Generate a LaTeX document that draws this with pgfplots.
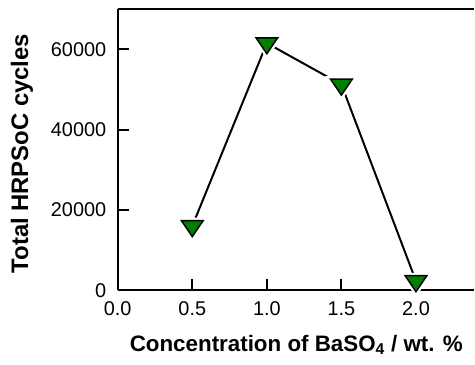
\documentclass[border=0pt]{standalone}
\usepackage{fontspec}
\setmainfont{Liberation Sans}
\usepackage{pgfplots}
\pgfplotsset{compat=1.18}
\definecolor{mgreen}{RGB}{0,128,0}
\pgfplotstableread{
x y
0.5 16000
1.0 61500
1.5 51200
2.0 2300
}\datatable
\begin{document}
\begin{tikzpicture}
\begin{axis}[
  name=ax,
  scale only axis,
  width=357bp, height=282bp,
  xmin=0, xmax=2.388, ymin=0, ymax=70000,
  axis x line*=box, axis y line*=left,
  xtick={0,0.5,1.0,1.5,2.0},
  ytick={0,20000,40000,60000},
  xtick pos=left, ytick pos=left,
  tick align=inside,
  major tick length=11bp,
  minor tick num=0,
  axis line style={line width=2.3bp},
  every tick/.style={line width=2bp, black},
  scaled y ticks=false,
  /pgf/number format/assume math mode=true,
  xticklabel style={/pgf/number format/fixed, /pgf/number format/fixed zerofill, /pgf/number format/precision=1, yshift=-8bp},
  yticklabel style={/pgf/number format/1000 sep={}, xshift=-8bp},
  ticklabel style={font=\fontsize{20}{24}\selectfont},
  xlabel={Concentration of BaSO\textsubscript{4} / wt. \%},
  ylabel={Total HRPSoC cycles},
  xlabel style={font=\fontsize{22.5}{27}\selectfont\bfseries, at={(axis description cs:0.5014,-0.2163)}, anchor=base},
  ylabel style={font=\fontsize{24}{28}\selectfont\bfseries, at={(axis description cs:-0.269,0.486)}, anchor=center},
  clip=false,
]
\addplot[black, line width=2bp] table[x=x,y=y] {\datatable};
\addplot[only marks, mark=triangle*, mark size=12.5bp,
  mark options={rotate=180, yscale=0.85, fill=white, draw=white, line width=6bp}] table[x=x,y=y] {\datatable};
\addplot[only marks, mark=triangle*, mark size=12.5bp,
  mark options={rotate=180, yscale=0.85, fill=mgreen, draw=black, line width=1.5bp}] table[x=x,y=y] {\datatable};
\end{axis}
\path ([xshift=-118bp,yshift=-74bp]ax.south west) rectangle ([yshift=9bp]ax.north west);
\end{tikzpicture}
\end{document}
